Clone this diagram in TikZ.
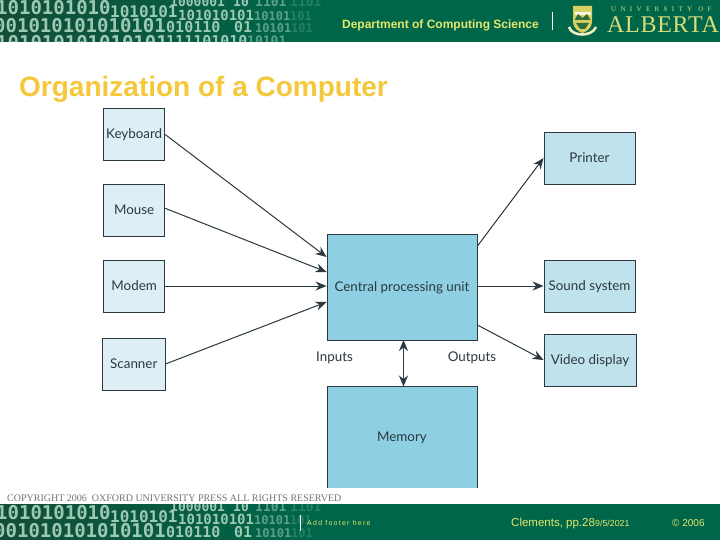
\documentclass[tikz,border=0pt]{standalone}
\usepackage{fontspec}
\setmainfont{Liberation Sans}
\newfontfamily\serifface{Liberation Serif}
\newfontfamily\boxface{Lato}
\newfontfamily\digitface{DejaVu Sans Mono}
\usetikzlibrary{arrows.meta,calc,fadings}
\definecolor{bandgreen}{HTML}{00664A}
\definecolor{banddark}{HTML}{144D38}
\definecolor{digit}{HTML}{9CC9B4}
\definecolor{headyellow}{HTML}{E4E86A}
\definecolor{logoyellow}{HTML}{D8DC78}
\definecolor{titleyellow}{HTML}{F5C83C}
\definecolor{paleblue}{HTML}{DDEFF5}
\definecolor{midblue}{HTML}{C0E2EC}
\definecolor{cpublue}{HTML}{8FCFE3}
\definecolor{inkdark}{HTML}{2B3A40}
\definecolor{crestgreen}{HTML}{2F6E3A}
\definecolor{crestgold}{HTML}{D8D060}
\tikzfading[name=fadeband,left color=transparent!0,right color=transparent!100]
\tikzset{
  boxfont/.style={font=\boxface\fontsize{13.4pt}{15pt}\selectfont,text height=12pt,text depth=3pt},
  box/.style={draw=inkdark,line width=0.9pt,minimum width=61pt,minimum height=52pt,inner sep=0pt,text=inkdark,boxfont},
  inbox/.style={box,fill=paleblue,minimum width=61pt},
  outbox/.style={box,fill=midblue,minimum width=91pt},
  bigbox/.style={box,fill=cpublue,minimum width=150pt},
  lab/.style={text=inkdark,inner sep=0pt,boxfont},
  conn/.style={draw=inkdark,line width=1pt,-{Stealth[length=11pt,width=9pt]}},
  dconn/.style={draw=inkdark,line width=1pt,{Stealth[length=11pt,width=9pt]}-{Stealth[length=11pt,width=9pt]}},
  digits/.style={anchor=base west,inner sep=0pt,text=digit,font=\digitface\bfseries\fontsize{#1}{#1}\selectfont},
  digitsmid/.style={digits=#1,text=digit!60!bandgreen},
  digitsfaint/.style={digits=#1,text=digit!25!bandgreen},
  bandtext/.style={text=headyellow,inner sep=0pt},
}
\newcommand{\binband}[1]{%
  \begin{scope}[shift={(0,#1)}]
    \clip (0,0) rectangle (320,42);
    \fill[banddark,path fading=fadeband] (0,0) rectangle (300,42);
    \node[digits=13pt] at (170,7) {1000001};
    \node[digits=13pt] at (233,7) {10};
    \node[digitsmid=13pt] at (255,7) {1101};
    \node[digitsfaint=13pt] at (290,7) {1101};
    \node[digits=19pt] at (-4,15) {1010101010};
    \node[digits=16pt] at (110,18) {1010101};
    \node[digits=14pt] at (178,20.5) {101010101};
    \node[digitsmid=12pt] at (254,20.5) {10101};
    \node[digitsfaint=12pt] at (290,20.5) {101};
    \node[digits=19pt] at (-6,33) {001010101010101};
    \node[digits=15pt] at (166,33) {010110};
    \node[digits=15pt] at (234,33) {01};
    \node[digitsmid=12pt] at (255,33) {10101};
    \node[digitsfaint=12pt] at (291,33) {101};
    \node[digits=19pt] at (-4,50) {101010101010101};
    \node[digits=15pt] at (166,47) {111101010};
    \node[digitsmid=13pt] at (247,46) {10101};
  \end{scope}}
\begin{document}
\begin{tikzpicture}[x=1pt,y=-1pt]
\useasboundingbox (0,0) rectangle (720,540);
\fill[white] (0,0) rectangle (720,540);
% top band
\fill[bandgreen] (0,0) rectangle (720,42);
\binband{0}
\node[bandtext,font=\bfseries\fontsize{12pt}{13pt}\selectfont,anchor=east] (dept) at (539,25.5) {Department of Computing Science};
\coordinate (sepa) at (552.5,12); \coordinate (sepb) at (552.5,30);
\draw[white,line width=0.7pt] (sepa) -- (sepb);
% crest
\fill[crestgold] (573,6) -- (592,6) -- (592,22) .. controls (592,28) and (586,32) .. (582.5,33) .. controls (579,32) and (573,28) .. (573,22) -- cycle;
\fill[white!85!crestgold] (574.5,12) rectangle (590.5,15);
\fill[crestgreen] (574.5,20) -- (578,14) -- (582.5,18) -- (587,14) -- (590.5,20) -- cycle;
\fill[crestgreen] (576,23) -- (589,23) -- (585,29) -- (580,29) -- cycle;
\draw[crestgold!40!white,line width=2.6pt] (569,27) .. controls (572,37) and (592,37) .. (596,27);
\node[text=logoyellow,inner sep=0pt,font=\serifface\fontsize{7pt}{8pt}\selectfont,anchor=west] (univ) at (611,9.5) {\addfontfeature{LetterSpace=62}UNIVERSITY OF};
\node[text=logoyellow,inner sep=0pt,font=\serifface\fontsize{24pt}{24pt}\selectfont,anchor=west] (alb) at (607,24.5) {\addfontfeature{LetterSpace=3}ALBERTA};
% title
\node[text=titleyellow,inner sep=0pt,anchor=west,font=\bfseries\fontsize{28pt}{30pt}\selectfont] (title) at (19,89) {Organization of a Computer};
% diagram
\node[inbox] (kbd) at (134.2,134.5) {Keyboard};
\node[inbox] (mouse) at (134.2,210.3) {Mouse};
\node[inbox] (modem) at (134.2,286) {Modem};
\node[inbox,minimum width=62.5pt] (scan) at (133.8,364) {Scanner};
\node[bigbox,minimum height=106pt] (cpu) at (402,287) {Central processing unit};
\fill[cpublue] (327,386.5) rectangle (477,488);
\draw[inkdark,line width=0.9pt] (327,488) -- (327,386.5) -- (477,386.5) -- (477,488);
\node[lab] (mem) at (402,437) {Memory};
\coordinate (memtop) at (403.5,386.5);
\node[outbox] (print) at (589.5,158) {Printer};
\node[outbox] (sound) at (589.5,286) {Sound system};
\node[outbox,minimum width=92pt] (video) at (590,360) {Video display};
\node[lab] (inp) at (334.5,357) {Inputs};
\node[lab] (outp) at (472,356.5) {Outputs};
% connector ends
\coordinate (c1) at ($(cpu.west)+(0,-30)$);
\coordinate (c2) at ($(cpu.west)+(0,-15)$);
\coordinate (c4) at ($(cpu.west)+(0,15)$);
\coordinate (o1) at ($(cpu.east)+(0,-41)$);
\coordinate (o3) at ($(cpu.east)+(0,38)$);
\coordinate (mcpu) at (403.5,340);
\coordinate (mse) at ($(mouse.east)+(0,-2)$);
\draw[conn] (kbd.east) -- (c1);
\draw[conn] (mse) -- (c2);
\draw[conn] (modem.east) -- (cpu.west |- modem.east);
\draw[conn] (scan.east) -- (c4);
\draw[conn] (o1) -- (print.west);
\draw[conn] (cpu.east |- sound.west) -- (sound.west);
\draw[conn] (o3) -- (video.west);
\draw[dconn] (mcpu) -- (memtop);
% copyright
\node[text=black!55,inner sep=0pt,anchor=west,font=\serifface\fontsize{10pt}{11pt}\selectfont] (copy) at (7,498) {COPYRIGHT 2006\ \ OXFORD UNIVERSITY PRESS ALL RIGHTS RESERVED};
% bottom band
\fill[bandgreen] (0,504) rectangle (720,540);
\begin{scope}
\clip (0,504) rectangle (720,540);
\binband{504}
\end{scope}
\coordinate (sepc) at (300.5,515); \coordinate (sepd) at (300.5,531);
\draw[white,line width=0.7pt] (sepc) -- (sepd);
\node[bandtext,anchor=west,font=\fontsize{7pt}{8pt}\selectfont] (foot) at (307,523) {\addfontfeature{LetterSpace=18}Add footer here};
\node[bandtext,anchor=west,font=\fontsize{11.5pt}{12pt}\selectfont] (clem) at (511,524) {Clements, pp.28};
\node[bandtext,anchor=west,font=\fontsize{8.8pt}{9pt}\selectfont] (date) at (595,523) {9/5/2021};
\node[bandtext,anchor=west,font=\fontsize{10pt}{11pt}\selectfont] (cpr) at (672,523.5) {© 2006};
\end{tikzpicture}
\end{document}
